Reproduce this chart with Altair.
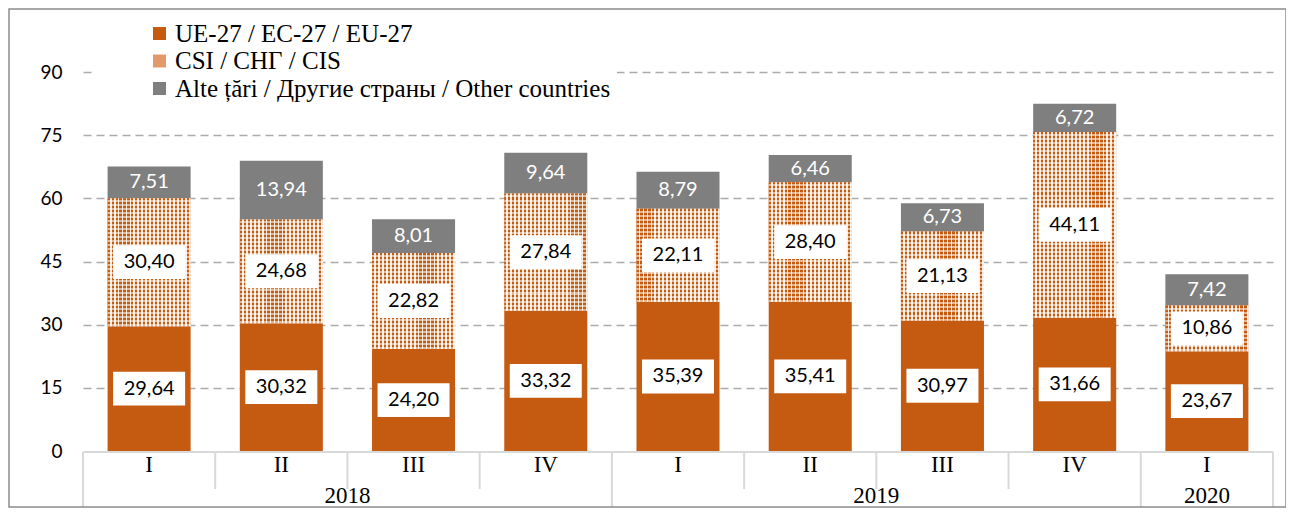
import altair as alt
import pandas as pd

# ---- data ----
quarters = ["I", "II", "III", "IV", "I", "II", "III", "IV", "I"]
years = ["2018", "2018", "2018", "2018", "2019", "2019", "2019", "2019", "2020"]
eu = [29.64, 30.32, 24.20, 33.32, 35.39, 35.41, 30.97, 31.66, 23.67]
cis = [30.40, 24.68, 22.82, 27.84, 22.11, 28.40, 21.13, 44.11, 10.86]
other = [7.51, 13.94, 8.01, 9.64, 8.79, 6.46, 6.73, 6.72, 7.42]
series_names = ["UE-27 / EC-27 / EU-27", "CSI / СНГ / CIS",
                "Alte țări / Другие страны / Other countries"]
y_ticks = [0, 15, 30, 45, 60, 75, 90]

# ---- styling ----
EU_C, CIS_C, OTH_C = "#C55A11", "#E39A6B", "#7F7F7F"
W, H = 1190, 379
HALF = 0.314
NUM_FONT = "Lato"
TXT_FONT = "Liberation Serif"

rows = []
for i in range(len(quarters)):
    base = 0.0
    for s, vals in zip(series_names, [eu, cis, other]):
        v = vals[i]
        rows.append(dict(idx=i, quarter=quarters[i], year=years[i], series=s,
                         value=v, y0=base, y1=base + v,
                         label=f"{v:.2f}".replace(".", ",")))
        base += v
df = pd.DataFrame(rows)

# year groups & separators derived from the years list
ydf = []
start = 0
for k in range(1, len(years) + 1):
    if k == len(years) or years[k] != years[k - 1]:
        ydf.append(dict(year=years[start], xc=(start + k) / 2))
        start = k
ydf = pd.DataFrame(ydf)
sep = pd.DataFrame([dict(b=k, full=(k == 0 or k == len(years) or years[k] != years[k - 1]))
                    for k in range(len(years) + 1)])

xscale = alt.Scale(domain=[0, len(quarters)], nice=False, zero=False)
yscale = alt.Scale(domain=[0, 90], nice=False)

base = alt.Chart(df).transform_calculate(
    xs=f"datum.idx + 0.5 - {HALF}", xe=f"datum.idx + 0.5 + {HALF}",
    xc="datum.idx + 0.5", ym="(datum.y0 + datum.y1) / 2")

dummy = alt.Data(values=[{"a": 1}])

backdrop = alt.Chart(dummy).mark_rect(fill="white").encode(
    x=alt.value(12), x2=alt.value(534), y=alt.value(-58), y2=alt.value(24))

bars = base.mark_rect(stroke=None).encode(
    x=alt.X("xs:Q", scale=xscale, axis=None),
    x2="xe:Q",
    y=alt.Y("y0:Q", scale=yscale, axis=alt.Axis(
        values=y_ticks, grid=True, gridDash=[8, 5], gridColor="#ABABAB", gridWidth=1.5,
        gridOpacity=alt.condition("datum.value == 0", alt.value(0), alt.value(1)),
        domain=False, ticks=False, labelFont=NUM_FONT, labelFontSize=19,
        labelColor="#000000", labelPadding=21, title=None)),
    y2="y1:Q",
    color=alt.Color("series:N", sort=series_names,
                    scale=alt.Scale(domain=series_names, range=[EU_C, CIS_C, OTH_C]),
                    legend=alt.Legend(orient="none", legendX=64, legendY=-51, title=None,
                                      symbolType="square", symbolSize=169,
                                      symbolStrokeWidth=0, labelFont=TXT_FONT,
                                      labelFontSize=25, labelColor="#000000",
                                      labelLimit=800, rowPadding=1.5, labelOffset=3)),
)

# checker-like texture for the CIS segments: vertical stripes ...
LIGHT = "#FBEADF"
vstops = []
nv = 21
for j in range(nv):
    a, b, c = j / nv, (j + 0.55) / nv, (j + 1) / nv
    vstops += [dict(offset=a, color=EU_C), dict(offset=b, color=EU_C),
               dict(offset=b, color=LIGHT), dict(offset=c, color=LIGHT)]
vgrad = alt.LinearGradient(gradient="linear", x1=0, x2=1, y1=0, y2=0, stops=vstops)
cis_layers = [base.transform_filter(alt.datum.series == series_names[1]).mark_rect(
    fill=vgrad).encode(x="xs:Q", x2="xe:Q", y="y0:Q", y2="y1:Q")]

# ... crossed by horizontal light stripes (one layer per bar, ~4px period)
for i, v in enumerate(cis):
    nh = max(1, round(v * H / 90 / 4))
    hstops = []
    for j in range(nh):
        a, b, c = j / nh, (j + 0.5) / nh, (j + 1) / nh
        hstops += [dict(offset=a, color="rgba(255,255,255,0)"),
                   dict(offset=b, color="rgba(255,255,255,0)"),
                   dict(offset=b, color="rgba(255,255,255,0.55)"),
                   dict(offset=c, color="rgba(255,255,255,0.55)")]
    hgrad = alt.LinearGradient(gradient="linear", x1=0, x2=0, y1=0, y2=1, stops=hstops)
    cis_layers.append(base.transform_filter(
        (alt.datum.series == series_names[1]) & (alt.datum.idx == i)).mark_rect(
        fill=hgrad).encode(x="xs:Q", x2="xe:Q", y="y0:Q", y2="y1:Q"))

boxes = base.transform_filter(alt.datum.series != series_names[2]).mark_point(
    shape="M-1,-0.47L1,-0.47L1,0.47L-1,0.47Z", size=72 * 72, filled=True,
    fill="white", opacity=1, strokeWidth=0).encode(x="xc:Q", y="ym:Q")

labels = base.mark_text(font=NUM_FONT, fontSize=20, baseline="middle").encode(
    x="xc:Q", y="ym:Q", text="label:N",
    color=alt.condition(alt.datum.series == series_names[2],
                        alt.value("white"), alt.value("black")))

axis_line = alt.Chart(dummy).mark_rule(color="#D9D9D9", strokeWidth=2).encode(
    x=alt.value(0), x2=alt.value(W), y=alt.value(H + 1))

seps_full = alt.Chart(sep).transform_filter("datum.full").mark_rule(
    color="#D9D9D9", strokeWidth=2).encode(
    x=alt.X("b:Q", scale=xscale), y=alt.value(H + 1), y2=alt.value(H + 56))
seps_short = alt.Chart(sep).transform_filter("!datum.full").mark_rule(
    color="#D9D9D9", strokeWidth=2).encode(
    x=alt.X("b:Q", scale=xscale), y=alt.value(H + 1), y2=alt.value(H + 38))

qlabels = base.transform_filter(alt.datum.series == series_names[0]).mark_text(
    font=TXT_FONT, fontSize=23, baseline="middle").encode(
    x="xc:Q", y=alt.value(H + 14), text="quarter:N")

ylabels = alt.Chart(ydf).mark_text(font=TXT_FONT, fontSize=23, baseline="middle").encode(
    x=alt.X("xc:Q", scale=xscale), y=alt.value(H + 45), text="year:N")

frame = alt.Chart(dummy).mark_rect(fill=None, stroke="#8C8C8C", strokeWidth=1.5).encode(
    x=alt.value(-74), x2=alt.value(1203), y=alt.value(-63), y2=alt.value(H + 56))

chart = alt.layer(backdrop, bars, *cis_layers, boxes, labels, axis_line, seps_full,
                  seps_short, qlabels, ylabels, frame).properties(
    width=W, height=H,
    autosize=alt.AutoSizeParams(type="none"),
    padding={"left": 75, "top": 64, "right": 13, "bottom": 57},
).configure_view(stroke=None)

chart.save("out.html", embed_options={"renderer": "svg", "actions": False})
